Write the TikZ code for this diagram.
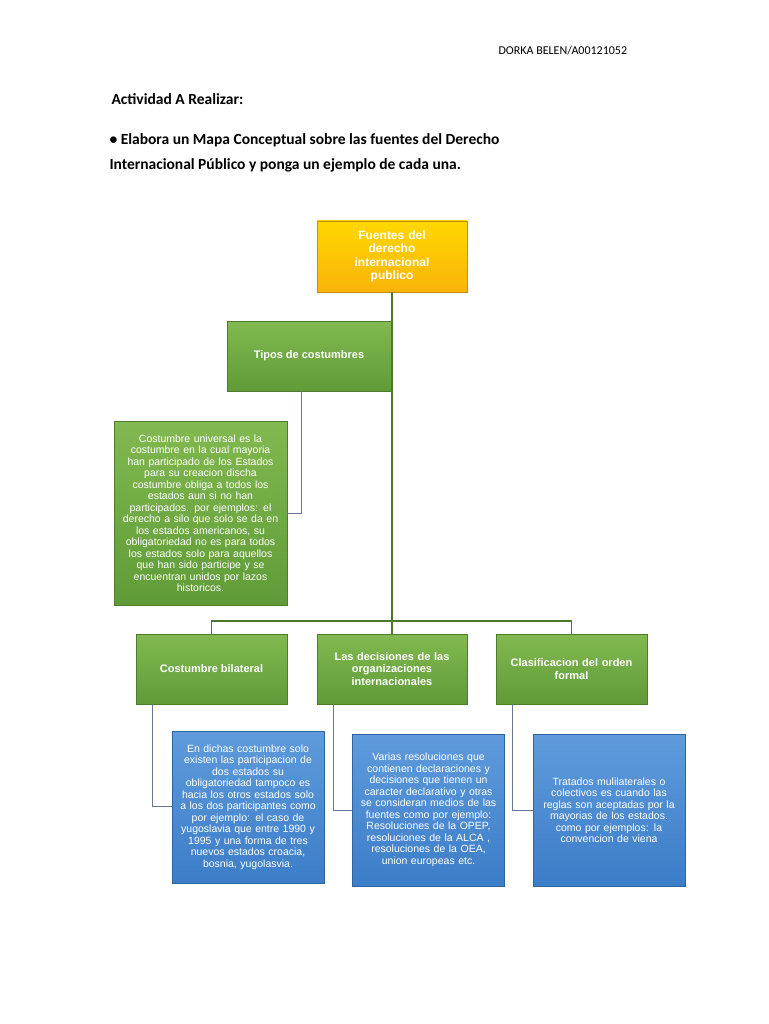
\documentclass[tikz,border=0pt]{standalone}
\usepackage{fontspec}
\setmainfont{Liberation Sans}
\newfontfamily\carlitofont{Carlito}
\definecolor{gtop}{RGB}{130,185,80}
\definecolor{gbot}{RGB}{95,155,55}
\definecolor{btop}{RGB}{95,155,220}
\definecolor{bbot}{RGB}{60,125,200}
\definecolor{ytop}{RGB}{255,215,0}
\definecolor{ybot}{RGB}{250,180,10}
\definecolor{lnk}{RGB}{75,120,45}
\definecolor{lnb}{RGB}{100,120,150}
\tikzset{
 gbox/.style={draw=gbot!80!black,top color=gtop,bottom color=gbot,text=white,align=center,inner sep=2pt,font=\fontsize{10.5}{11.5}\selectfont},
 bbox/.style={draw=bbot!80!black,top color=btop,bottom color=bbot,text=white,align=center,inner sep=2pt,font=\fontsize{10.5}{11.5}\selectfont},
 hbox/.style={gbox,font=\bfseries\fontsize{11}{12.5}\selectfont},
 ln/.style={draw=lnk,line width=1.2pt},
 lb/.style={draw=lnb,line width=1pt}
}
\begin{document}
\begin{tikzpicture}[x=1pt,y=-1pt]
\useasboundingbox[fill=white] (0,0) rectangle (768,1024);
\node[anchor=west,font=\carlitofont\fontsize{12}{14}\selectfont] (auth) at (495,51) {DORKA BELEN/A00121052};
\node[anchor=west,font=\carlitofont\bfseries\fontsize{15.5}{18}\selectfont] (act) at (108,99) {Actividad A Realizar:};
\node[anchor=north west,align=left,font=\carlitofont\bfseries\fontsize{15.5}{25.5}\selectfont] (task) at (106,130) {• Elabora un Mapa Conceptual sobre las fuentes del Derecho\\Internacional Público y ponga un ejemplo de cada una.};

\node[draw=ybot!80!black,top color=ytop,bottom color=ybot,text=white,align=center,font=\bfseries\fontsize{12}{13.5}\selectfont,minimum width=150pt,minimum height=71pt,text width=140pt] (top) at (392,256.5) {Fuentes del\\derecho\\internacional\\publico};
\node[hbox,minimum width=164pt,minimum height=70pt] (tipos) at (309,356) {Tipos de costumbres};
\node[gbox,minimum width=173pt,minimum height=184pt,text width=168pt] (univ) at (200.5,513) {Costumbre universal es la\\costumbre en la cual mayoria\\han participado de los Estados\\para su creacion discha\\costumbre obliga a todos los\\estados aun si no han\\participados. por ejemplos: el\\derecho a silo que solo se da en\\los estados americanos, su\\obligatoriedad no es para todos\\los estados solo para aquellos\\que han sido participe y se\\encuentran unidos por lazos\\historicos.};
\node[hbox,minimum width=151pt,minimum height=70pt] (bil) at (211.5,669) {Costumbre bilateral};
\node[hbox,minimum width=150pt,minimum height=70pt,text width=145pt] (dec) at (392,669) {Las decisiones de las\\organizaciones\\internacionales};
\node[hbox,minimum width=151pt,minimum height=70pt,text width=145pt] (cla) at (571.5,669) {Clasificacion del orden\\formal};
\node[bbox,minimum width=150pt,minimum height=152pt,text width=148pt] (b1) at (248,807) {En dichas costumbre solo\\existen las participacion de\\dos estados su\\obligatoriedad tampoco es\\hacia los otros estados solo\\a los dos participantes como\\por ejemplo: el caso de\\yugoslavia que entre 1990 y\\1995 y una forma de tres\\nuevos estados croacia,\\bosnia, yugolasvia.};
\node[bbox,minimum width=149pt,minimum height=152pt,text width=148pt] (b2) at (428.5,810) {Varias resoluciones que\\contienen declaraciones y\\decisiones que tienen un\\caracter declarativo y otras\\se consideran medios de las\\fuentes como por ejemplo:\\Resoluciones de la OPEP,\\resoluciones de la ALCA ,\\resoluciones de la OEA,\\union europeas etc.};
\node[bbox,minimum width=150pt,minimum height=152pt,text width=148pt] (b3) at (609,810) {Tratados mulilaterales o\\colectivos es cuando las\\reglas son aceptadas por la\\mayorias de los estados.\\como por ejemplos: la\\convencion de viena};

\coordinate (j) at (391,621);
\draw[ln] (top.south) -- (top.south |- j);
\draw[ln] (tipos.east) -- (tipos.east -| top.south);
\draw[ln] (bil.north) -- (bil.north |- j) -- (cla.north |- j) -- (cla.north);
\draw[ln] (dec.north |- j) -- (dec.north);
\draw[lb] ([xshift=-8pt]tipos.south) |- (univ.east);
\draw[lb] ([xshift=-59pt]bil.south) |- ([yshift=1pt]b1.west);
\draw[lb] ([xshift=-59pt]dec.south) |- (b2.west);
\draw[lb] ([xshift=-59pt]cla.south) |- (b3.west);
\end{tikzpicture}
\end{document}
